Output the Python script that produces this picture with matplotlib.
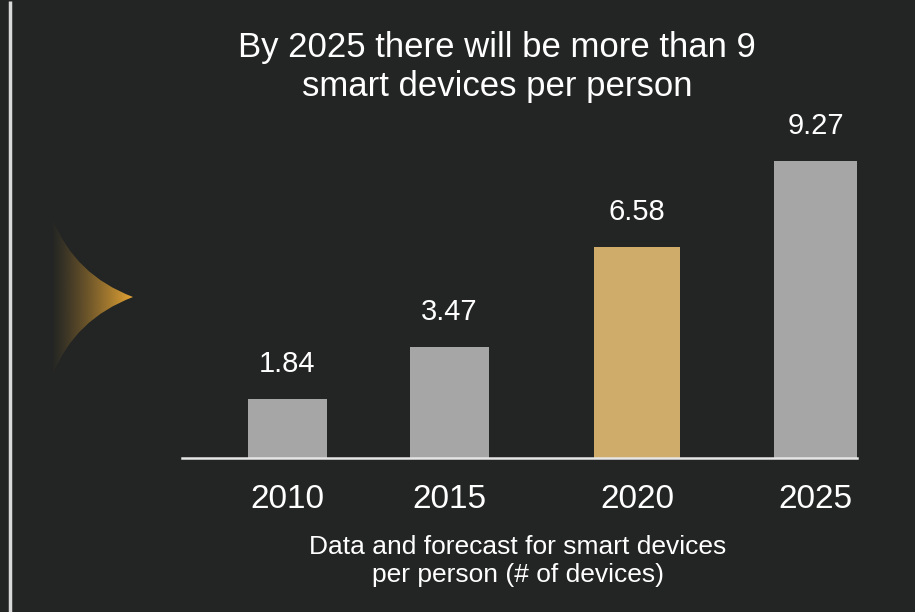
import matplotlib.pyplot as plt
import numpy as np
from matplotlib.path import Path
from matplotlib.patches import PathPatch

plt.rcParams['font.family'] = ['Liberation Sans', 'DejaVu Sans']

years = ['2010', '2015', '2020', '2025']
devices = [1.84, 3.47, 6.58, 9.27]
highlight = '2020'

bg = '#232524'
grey = '#a6a6a6'
gold = '#cfac69'

# uneven spacing as in the original slide
xpos = [0, 1, 2.157, 3.259]
widths = [0.49, 0.49, 0.53, 0.51]

fig = plt.figure(figsize=(9.15, 6.12), dpi=100)
fig.patch.set_facecolor(bg)

# overlay in pixel coords for decorations
deco = fig.add_axes([0, 0, 1, 1])
deco.set_xlim(0, 915)
deco.set_ylim(612, 0)
deco.axis('off')
deco.plot([9.5, 9.5], [1, 612], color='#d9d9d9', lw=2.5, solid_capstyle='butt')

# golden concave arrow with horizontal fade
verts = [(53, 220), (75, 275), (133, 297), (75, 319), (53, 374), (53, 220)]
codes = [Path.MOVETO, Path.CURVE3, Path.CURVE3, Path.CURVE3, Path.CURVE3, Path.CLOSEPOLY]
shape = PathPatch(Path(verts, codes), facecolor='none', edgecolor='none')
deco.add_patch(shape)
ramp = np.linspace(0.03, 1, 256) ** 1.2
img = np.zeros((2, 256, 4))
img[..., 0] = 232 / 255
img[..., 1] = 166 / 255
img[..., 2] = 52 / 255
img[..., 3] = ramp
im = deco.imshow(img, extent=(53, 134, 374, 220), aspect='auto', interpolation='bilinear')
im.set_clip_path(shape)

ax = fig.add_axes([182 / 915, 1 - 458 / 612, 675 / 915, 320 / 612])
ax.set_facecolor('none')
colors = [gold if y == highlight else grey for y in years]
ax.bar(xpos, devices, width=widths, color=colors)
ax.set_xlim(-0.651, 3.515)
ax.set_ylim(0, 10)
for x, v in zip(xpos, devices):
    ax.text(x, v + 1.1, f'{v:.2f}', ha='center', va='center', color='white', fontsize=21)

ax.set_xticks(xpos)
ax.set_xticklabels(years, fontsize=24, color='white')
ax.tick_params(axis='x', length=0, pad=19)
ax.set_yticks([])
for s in ['top', 'right', 'left']:
    ax.spines[s].set_visible(False)
ax.spines['bottom'].set_color('#e6e6e6')
ax.spines['bottom'].set_linewidth(1.8)

fig.text(497 / 915, 1 - 67 / 612, 'By 2025 there will be more than 9\nsmart devices per person',
         ha='center', va='center', color='white', fontsize=25, linespacing=1.25)
fig.text(518 / 915, 1 - 561 / 612, 'Data and forecast for smart devices\nper person (# of devices)',
         ha='center', va='center', color='white', fontsize=19, linespacing=1.22)

fig.savefig('out.png', dpi=100, facecolor=bg)
